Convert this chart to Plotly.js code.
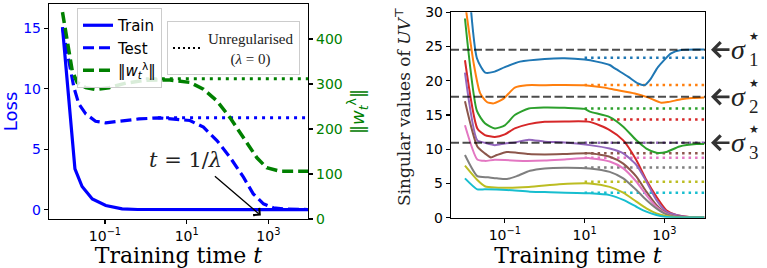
<!DOCTYPE html>
<html><head><meta charset="utf-8">
<script src="https://cdn.plot.ly/plotly-3.0.1.min.js"></script>
<style>html,body{margin:0;padding:0;background:#fff;} #chart{width:767px;height:268px;}</style>
</head><body><div id="chart"></div>
<script>
// ---------- Left panel (x values are log10 of training time) ----------
const trainLogT = [-2.04, -1.735, -1.56, -1.31, -0.98, -0.58, -0.2, 0.5, 1.5, 2.5, 3.2, 3.97];
const trainLoss = [15.08, 3.38, 1.93, 0.9, 0.36, 0.08, 0.03, 0.02, 0.02, 0.02, 0.02, 0.02];

const testLogT = [-2.04, -1.76, -1.64, -1.47, -1.23, -0.98, -0.66, -0.17, 0.32, 0.59, 1.08, 1.41, 1.74, 2.06, 2.39, 2.63, 2.88, 3.12, 3.4, 3.97];
const testLoss = [15.08, 10.1, 8.75, 7.93, 7.32, 7.18, 7.32, 7.51, 7.6, 7.51, 7.38, 6.83, 5.73, 4.35, 2.7, 1.32, 0.5, 0.17, 0.06, 0.03];

const normLogT = [-2.04, -1.8, -1.68, -1.47, -1.23, -0.9, -0.49, 0.0, 0.59, 1.08, 1.41, 1.74, 2.06, 2.39, 2.72, 2.96, 3.29, 3.97];
const normVals = [460, 329, 303.6, 292, 288, 292, 302, 308.7, 309, 303.6, 288.6, 262.5, 225.4, 180.8, 136, 113.8, 106, 106];

const unregTestLogT = [0.3, 3.97];
const unregTestLoss = [7.6, 7.6];
const unregNormLogT = [0.0, 3.97];
const unregNormVals = [312, 312];

const xTickVals = [0.1, 10, 1000];
const xTickText = ['10<sup>\u22121</sup>', '10<sup>1</sup>', '10<sup>3</sup>'];
const lossTicks = [0, 5, 10, 15];
const normTicks = [0, 100, 200, 300, 400];

// ---------- Right panel: singular values of UV^T ----------
const svColors = ['#1f77b4', '#ff7f0e', '#2ca02c', '#d62728', '#9467bd', '#8c564b', '#e377c2', '#7f7f7f', '#bcbd22', '#17becf'];
const sv1T = [-2.0, -1.7, -1.49, -1.28, -1.0, -0.62, 0.0, 0.5, 1.0, 1.3, 1.63, 1.76, 2.09, 2.34, 2.51, 2.65, 2.84, 3.17, 3.42, 4.0];
const sv1 = [42, 23.3, 21.2, 21.3, 22.0, 22.8, 23.2, 23.3, 23.1, 22.8, 22.3, 21.8, 20.6, 19.6, 19.37, 20.2, 22.0, 24.0, 24.5, 24.57];
const sv2T = [-2.0, -1.78, -1.62, -1.45, -1.28, -1.03, -0.75, -0.45, 0.0, 0.5, 1.0, 1.5, 1.76, 2.26, 2.59, 2.92, 3.1, 3.42, 3.7, 4.0];
const sv2 = [31.5, 22.5, 18.2, 16.9, 16.7, 17.4, 19.0, 19.35, 19.35, 19.4, 19.35, 19.0, 18.7, 18.15, 17.57, 16.8, 16.9, 17.3, 17.5, 17.57];
const sv3T = [-2.0, -1.7, -1.5, -1.25, -1.0, -0.75, -0.4, 0.0, 0.5, 1.0, 1.13, 1.63, 1.97, 2.3, 2.55, 2.8, 3.05, 3.38, 3.8, 4.0];
const sv3 = [29.1, 15.6, 13.8, 13.04, 13.5, 15.0, 15.96, 16.1, 16.05, 15.9, 15.5, 14.7, 13.3, 11.3, 10.1, 9.5, 9.6, 10.4, 10.75, 10.75];
const sv4T = [-2.0, -1.69, -1.5, -1.25, -1.0, -0.75, -0.4, 0.0, 0.5, 1.13, 1.63, 1.97, 2.3, 2.55, 2.8, 3.05, 3.3, 3.63, 4.0];
const sv4 = [23.0, 13.04, 12.07, 11.8, 12.17, 13.04, 13.67, 14.0, 14.05, 14.0, 12.8, 11.3, 8.4, 5.5, 3.07, 1.1, 0.4, 0.1, 0.03];
const sv5T = [-2.0, -1.69, -1.5, -1.25, -1.0, -0.75, -0.4, 0.0, 0.5, 1.13, 1.63, 1.97, 2.3, 2.55, 2.8, 3.05, 3.3, 3.6, 4.0];
const sv5 = [21.2, 11.3, 10.95, 10.6, 10.85, 11.0, 11.4, 11.1, 11.0, 10.6, 10.1, 9.4, 7.7, 5.3, 2.6, 0.9, 0.4, 0.1, 0.03];
const sv6T = [-2.0, -1.69, -1.5, -1.35, -1.2, -0.95, -0.7, -0.4, 0.0, 0.5, 1.13, 1.63, 1.97, 2.3, 2.55, 2.8, 3.05, 3.3, 3.6, 4.0];
const sv6 = [17.0, 10.4, 9.4, 8.8, 9.15, 9.6, 9.5, 9.3, 9.25, 9.3, 9.4, 8.9, 7.9, 6.0, 3.8, 1.85, 0.63, 0.2, 0.05, 0.03];
const sv7T = [-2.0, -1.69, -1.5, -1.25, -0.5, 0.0, 0.5, 1.13, 1.63, 1.97, 2.3, 2.55, 2.8, 3.05, 3.3, 3.6, 4.0];
const sv7 = [13.5, 8.5, 8.3, 8.45, 8.3, 8.35, 8.5, 8.7, 8.2, 7.2, 5.25, 3.3, 1.6, 0.6, 0.15, 0.04, 0.03];
const sv8T = [-2.0, -1.69, -1.42, -1.2, -0.95, -0.7, -0.37, 0.0, 0.5, 1.13, 1.63, 1.97, 2.3, 2.55, 2.8, 3.05, 3.3, 3.6, 4.0];
const sv8 = [9.15, 6.08, 5.9, 5.75, 5.65, 6.08, 6.86, 7.2, 7.3, 7.2, 6.7, 5.75, 4.04, 2.6, 1.37, 0.5, 0.12, 0.03, 0.03];
const sv9T = [-2.0, -1.69, -1.5, -1.25, -0.4, 0.36, 1.13, 1.63, 1.97, 2.3, 2.55, 2.8, 3.05, 3.3, 3.6, 4.0];
const sv9 = [7.6, 5.5, 4.6, 4.4, 4.5, 4.87, 5.0, 4.5, 3.65, 2.34, 1.37, 0.63, 0.25, 0.06, 0.03, 0.03];
const sv10T = [-2.0, -1.69, -1.5, -0.95, -0.37, 0.0, 1.13, 1.63, 1.97, 2.3, 2.55, 2.8, 3.05, 3.3, 3.6, 4.0];
const sv10 = [5.75, 4.14, 4.14, 4.04, 3.8, 3.75, 3.56, 3.3, 2.6, 1.6, 0.88, 0.4, 0.1, 0.03, 0.02, 0.02];

const unregSV = [23.37, 19.37, 15.96, 14.35, 10.95, 9.4, 8.76, 7.35, 5.25, 3.65];
const unregSVLogT = [1.0, 4.0];
const sigmaStar = [24.55, 17.65, 10.95];
const sigmaIdx = ['1', '2', '3'];
const svTicks = [0, 5, 10, 15, 20, 25, 30];

// ---------- build ----------
const pow10 = a => a.map(v => Math.pow(10, v));
const SERIF = 'DejaVu Serif, serif';
const SERIF2 = 'Liberation Serif, DejaVu Serif, serif';
const SANS = 'DejaVu Sans, sans-serif';
const NB = '\u00a0';
const traces = [];

traces.push({x: pow10(unregTestLogT), y: unregTestLoss, xaxis: 'x', yaxis: 'y', mode: 'lines',
  line: {color: 'blue', width: 3, dash: '3px,5px'}, showlegend: false, hoverinfo: 'skip'});
traces.push({x: pow10(trainLogT), y: trainLoss, xaxis: 'x', yaxis: 'y', mode: 'lines', name: 'Train',
  line: {color: 'blue', width: 3.2}, legend: 'legend'});
traces.push({x: pow10(testLogT), y: testLoss, xaxis: 'x', yaxis: 'y', mode: 'lines', name: 'Test',
  line: {color: 'blue', width: 3.2, dash: '11px,5px'}, legend: 'legend'});
traces.push({x: pow10(unregNormLogT), y: unregNormVals, xaxis: 'x', yaxis: 'y2', mode: 'lines',
  line: {color: 'green', width: 3, dash: '3px,5px'}, showlegend: false, hoverinfo: 'skip'});
traces.push({x: pow10(normLogT), y: normVals, xaxis: 'x', yaxis: 'y2', mode: 'lines',
  name: '\u2016<i>w</i><sub><i>t</i></sub><sup>\u03bb</sup>\u2016',
  line: {color: 'green', width: 3.5, dash: '11px,5px'}, legend: 'legend'});
// legend-only entry for unregularised curves
traces.push({x: [null], y: [null], xaxis: 'x', yaxis: 'y', mode: 'lines',
  name: 'Unregularised<br>' + NB.repeat(6) + '(<i>\u03bb</i> = 0)',
  line: {color: 'black', width: 2, dash: '2px,3px'}, legend: 'legend2'});

const svT = [sv1T, sv2T, sv3T, sv4T, sv5T, sv6T, sv7T, sv8T, sv9T, sv10T];
const svV = [sv1, sv2, sv3, sv4, sv5, sv6, sv7, sv8, sv9, sv10];
for (let i = 0; i < svV.length; i++) {
  traces.push({x: pow10(unregSVLogT), y: [unregSV[i], unregSV[i]], xaxis: 'x2', yaxis: 'y3', mode: 'lines',
    line: {color: svColors[i], width: 2.5, dash: '2.5px,4px'}, showlegend: false, hoverinfo: 'skip'});
}
for (let i = 0; i < svV.length; i++) {
  traces.push({x: pow10(svT[i]), y: svV[i], xaxis: 'x2', yaxis: 'y3', mode: 'lines',
    line: {color: svColors[i], width: 2, shape: 'spline', smoothing: 0.6}, showlegend: false});
}

const shapes = sigmaStar.map(s => ({type: 'line', xref: 'x2 domain', x0: 0, x1: 1, yref: 'y3', y0: s, y1: s,
  line: {color: 'rgba(0,0,0,0.7)', width: 2, dash: '8px,3.5px'}, layer: 'above'}));

const annotations = [
  {xref: 'x', yref: 'y', x: 0.96, y: 4.13, text: '<i>t</i> = 1/<i>\u03bb</i>', showarrow: false,
   font: {family: SERIF, size: 21, color: '#222'}, xanchor: 'center', yanchor: 'middle'},
  {xref: 'x', yref: 'y', axref: 'x', ayref: 'y', x: 2.816, y: -0.47, ax: 1.654, ay: 2.89, text: '',
   showarrow: true, arrowhead: 4, arrowsize: 1.4, arrowwidth: 1.3, arrowcolor: 'black', standoff: 0},
  // y-axis title of the right panel
  {xref: 'paper', yref: 'paper', x: 403 / 767, y: (268 - 107) / 268, text: 'Singular values of <i>UV</i><sup>\u22a4</sup>',
   textangle: -90, showarrow: false, font: {family: SERIF, size: 17, color: '#222'}, xanchor: 'center', yanchor: 'middle'}
];
sigmaStar.forEach((s, i) => {
  annotations.push({xref: 'paper', yref: 'y3', x: 711 / 767, y: s, ax: 20, ay: 0, text: '', showarrow: true,
    arrowhead: 4, arrowsize: 1.1, arrowwidth: 2.6, arrowcolor: '#333', standoff: 0});
  annotations.push({xref: 'paper', yref: 'y3', x: 738 / 767, y: s, yshift: 0, text: '<i>\u03c3</i>', showarrow: false,
    font: {family: SERIF2, size: 28, color: '#222'}, xanchor: 'center', yanchor: 'middle'});
  annotations.push({xref: 'paper', yref: 'y3', x: 754 / 767, y: s, yshift: 13, text: '\u2605', showarrow: false,
    font: {family: SANS, size: 11, color: '#222'}, xanchor: 'center', yanchor: 'middle'});
  annotations.push({xref: 'paper', yref: 'y3', x: 754 / 767, y: s, yshift: -9.5, text: sigmaIdx[i], showarrow: false,
    font: {family: SERIF2, size: 19, color: '#222'}, xanchor: 'center', yanchor: 'middle'});
});

const axBase = {showgrid: false, zeroline: false, showline: true, linecolor: 'black', linewidth: 1.2,
  ticks: 'outside', ticklen: 4, tickwidth: 1.2, tickcolor: 'black', tickfont: {family: SANS, size: 14, color: 'black'}};

const layout = {
  width: 767, height: 268, margin: {l: 0, r: 0, t: 0, b: 0},
  paper_bgcolor: 'white', plot_bgcolor: 'white', showlegend: true,
  font: {family: SANS, size: 14, color: 'black'},
  xaxis: Object.assign({}, axBase, {type: 'log', domain: [49 / 767, 308 / 767], range: [-2.37, 3.97], anchor: 'y',
    tickvals: xTickVals, ticktext: xTickText, mirror: true,
    title: {text: NB + 'Training time <i>t</i>', font: {family: SERIF, size: 22, color: 'black'}, standoff: 4}}),
  yaxis: Object.assign({}, axBase, {domain: [0.183, 0.985], range: [-0.75, 17.0], anchor: 'x', tickvals: lossTicks,
    tickfont: {family: SANS, size: 14, color: 'blue'},
    title: {text: 'Loss', font: {family: SANS, size: 18, color: 'blue'}, standoff: 6}}),
  yaxis2: Object.assign({}, axBase, {overlaying: 'y', side: 'right', anchor: 'x', range: [0, 478], tickvals: normTicks,
    tickfont: {family: SANS, size: 14, color: 'green'},
    title: {text: '\u2016<i>w</i><sub><i>t</i></sub><sup>\u03bb</sup>\u2016', font: {family: SANS, size: 18, color: 'green'}, standoff: 9}}),
  xaxis2: Object.assign({}, axBase, {type: 'log', domain: [451 / 767, 705 / 767], range: [-2.35, 4.02], anchor: 'y3',
    tickvals: xTickVals, ticktext: xTickText, mirror: true,
    title: {text: NB + NB + 'Training time <i>t</i>', font: {family: SERIF, size: 22, color: 'black'}, standoff: 4}}),
  yaxis3: Object.assign({}, axBase, {domain: [0.1877, 0.954], range: [0, 30], anchor: 'x2', tickvals: svTicks, mirror: true}),
  legend: {x: 77 / 767, y: 260 / 268, xanchor: 'left', yanchor: 'top', bgcolor: 'rgba(255,255,255,0.85)',
    bordercolor: '#cccccc', borderwidth: 1, font: {family: SANS, size: 15, color: 'black'}, tracegroupgap: 0},
  legend2: {x: 167 / 767, y: 247 / 268, xanchor: 'left', yanchor: 'top', bgcolor: 'rgba(255,255,255,0.85)',
    bordercolor: '#cccccc', borderwidth: 1, font: {family: SERIF2, size: 15, color: '#222'}},
  shapes: shapes,
  annotations: annotations
};

Plotly.newPlot('chart', traces, layout, {staticPlot: true, displayModeBar: false});
</script>
</body></html>
